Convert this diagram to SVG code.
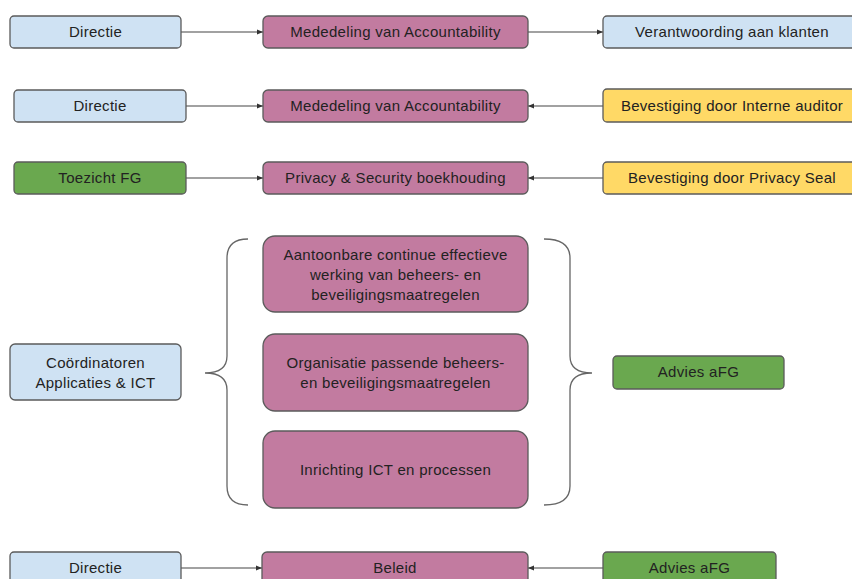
<svg xmlns="http://www.w3.org/2000/svg" width="852" height="579" viewBox="0 0 852 579">
<defs>
<style>
.n rect{stroke:#5b5b5b;stroke-width:1.3}
.blue{fill:#cfe2f3}
.pink{fill:#c27ba0}
.green{fill:#6aa84f}
.yellow{fill:#ffd966}
text{font-family:"Liberation Sans",Arial,sans-serif;font-size:15px;letter-spacing:0.3px;fill:#222;text-anchor:middle}
.c line{stroke:#444;stroke-width:1.2;marker-end:url(#ah)}
.brace{fill:none;stroke:#666;stroke-width:1.3}
</style>
<marker id="ah" viewBox="0 0 6 6" refX="6" refY="3" markerWidth="6" markerHeight="6" markerUnits="userSpaceOnUse" orient="auto">
<path d="M0,0.5 L6,3 L0,5.5 Z" fill="#333"/>
</marker>
</defs>
<rect width="852" height="579" fill="#fff"/>

<g id="connectors" class="c">
<line x1="181" y1="32" x2="263" y2="32"/>
<line x1="528" y1="32" x2="603" y2="32"/>
<line x1="186" y1="106" x2="263" y2="106"/>
<line x1="603" y1="106" x2="528" y2="106"/>
<line x1="186" y1="178" x2="263" y2="178"/>
<line x1="603" y1="178" x2="528" y2="178"/>
<line x1="181" y1="568" x2="262" y2="568"/>
<line x1="603" y1="568" x2="528" y2="568"/>
</g>

<g id="braces">
<path class="brace" d="M248,239 Q227,239 227,258 L227,356 Q227,373 205,373 Q227,373 227,390 L227,486 Q227,505 248,505"/>
<path class="brace" d="M544,239 Q570,239 570,258 L570,356 Q570,373 592,373 Q570,373 570,390 L570,486 Q570,505 544,505"/>
</g>

<g id="directie1" class="n"><rect class="blue" x="10" y="16" width="171" height="32" rx="4"/><text x="95.5" y="37">Directie</text></g>
<g id="mededeling1" class="n"><rect class="pink" x="263" y="16" width="265" height="32" rx="5"/><text x="395.5" y="37">Mededeling van Accountability</text></g>
<g id="verantwoording" class="n"><rect class="blue" x="603" y="16" width="260" height="32" rx="4"/><text x="732" y="37">Verantwoording aan klanten</text></g>

<g id="directie2" class="n"><rect class="blue" x="14" y="90" width="172" height="32" rx="4"/><text x="100" y="111">Directie</text></g>
<g id="mededeling2" class="n"><rect class="pink" x="263" y="90" width="265" height="32" rx="5"/><text x="395.5" y="111">Mededeling van Accountability</text></g>
<g id="bevestiging-auditor" class="n"><rect class="yellow" x="603" y="89" width="260" height="33" rx="4"/><text x="732" y="111">Bevestiging door Interne auditor</text></g>

<g id="toezicht" class="n"><rect class="green" x="14" y="162" width="172" height="32" rx="4"/><text x="100" y="183">Toezicht FG</text></g>
<g id="privacy" class="n"><rect class="pink" x="263" y="162" width="265" height="32" rx="5"/><text x="395.5" y="183">Privacy &amp; Security boekhouding</text></g>
<g id="bevestiging-seal" class="n"><rect class="yellow" x="603" y="162" width="260" height="32" rx="4"/><text x="732" y="183">Bevestiging door Privacy Seal</text></g>

<g id="coordinatoren" class="n"><rect class="blue" x="10" y="344" width="171" height="56" rx="5"/><text x="95.5" y="368">Coördinatoren</text><text x="95.5" y="388">Applicaties &amp; ICT</text></g>
<g id="aantoonbare" class="n"><rect class="pink" x="263" y="236" width="265" height="76" rx="12"/><text x="395.5" y="260">Aantoonbare continue effectieve</text><text x="395.5" y="280">werking van beheers- en</text><text x="395.5" y="300">beveiligingsmaatregelen</text></g>
<g id="organisatie" class="n"><rect class="pink" x="263" y="334" width="265" height="77" rx="12"/><text x="395.5" y="368">Organisatie passende beheers-</text><text x="395.5" y="388">en beveiligingsmaatregelen</text></g>
<g id="inrichting" class="n"><rect class="pink" x="263" y="431" width="265" height="77" rx="12"/><text x="395.5" y="475">Inrichting ICT en processen</text></g>
<g id="advies1" class="n"><rect class="green" x="613" y="356" width="171" height="33" rx="4"/><text x="698.5" y="377">Advies aFG</text></g>

<g id="directie3" class="n"><rect class="blue" x="10" y="552" width="171" height="33" rx="4"/><text x="95.5" y="573">Directie</text></g>
<g id="beleid" class="n"><rect class="pink" x="262" y="552" width="266" height="33" rx="5"/><text x="395" y="573">Beleid</text></g>
<g id="advies2" class="n"><rect class="green" x="603" y="552" width="173" height="33" rx="4"/><text x="689.5" y="573">Advies aFG</text></g>
</svg>
